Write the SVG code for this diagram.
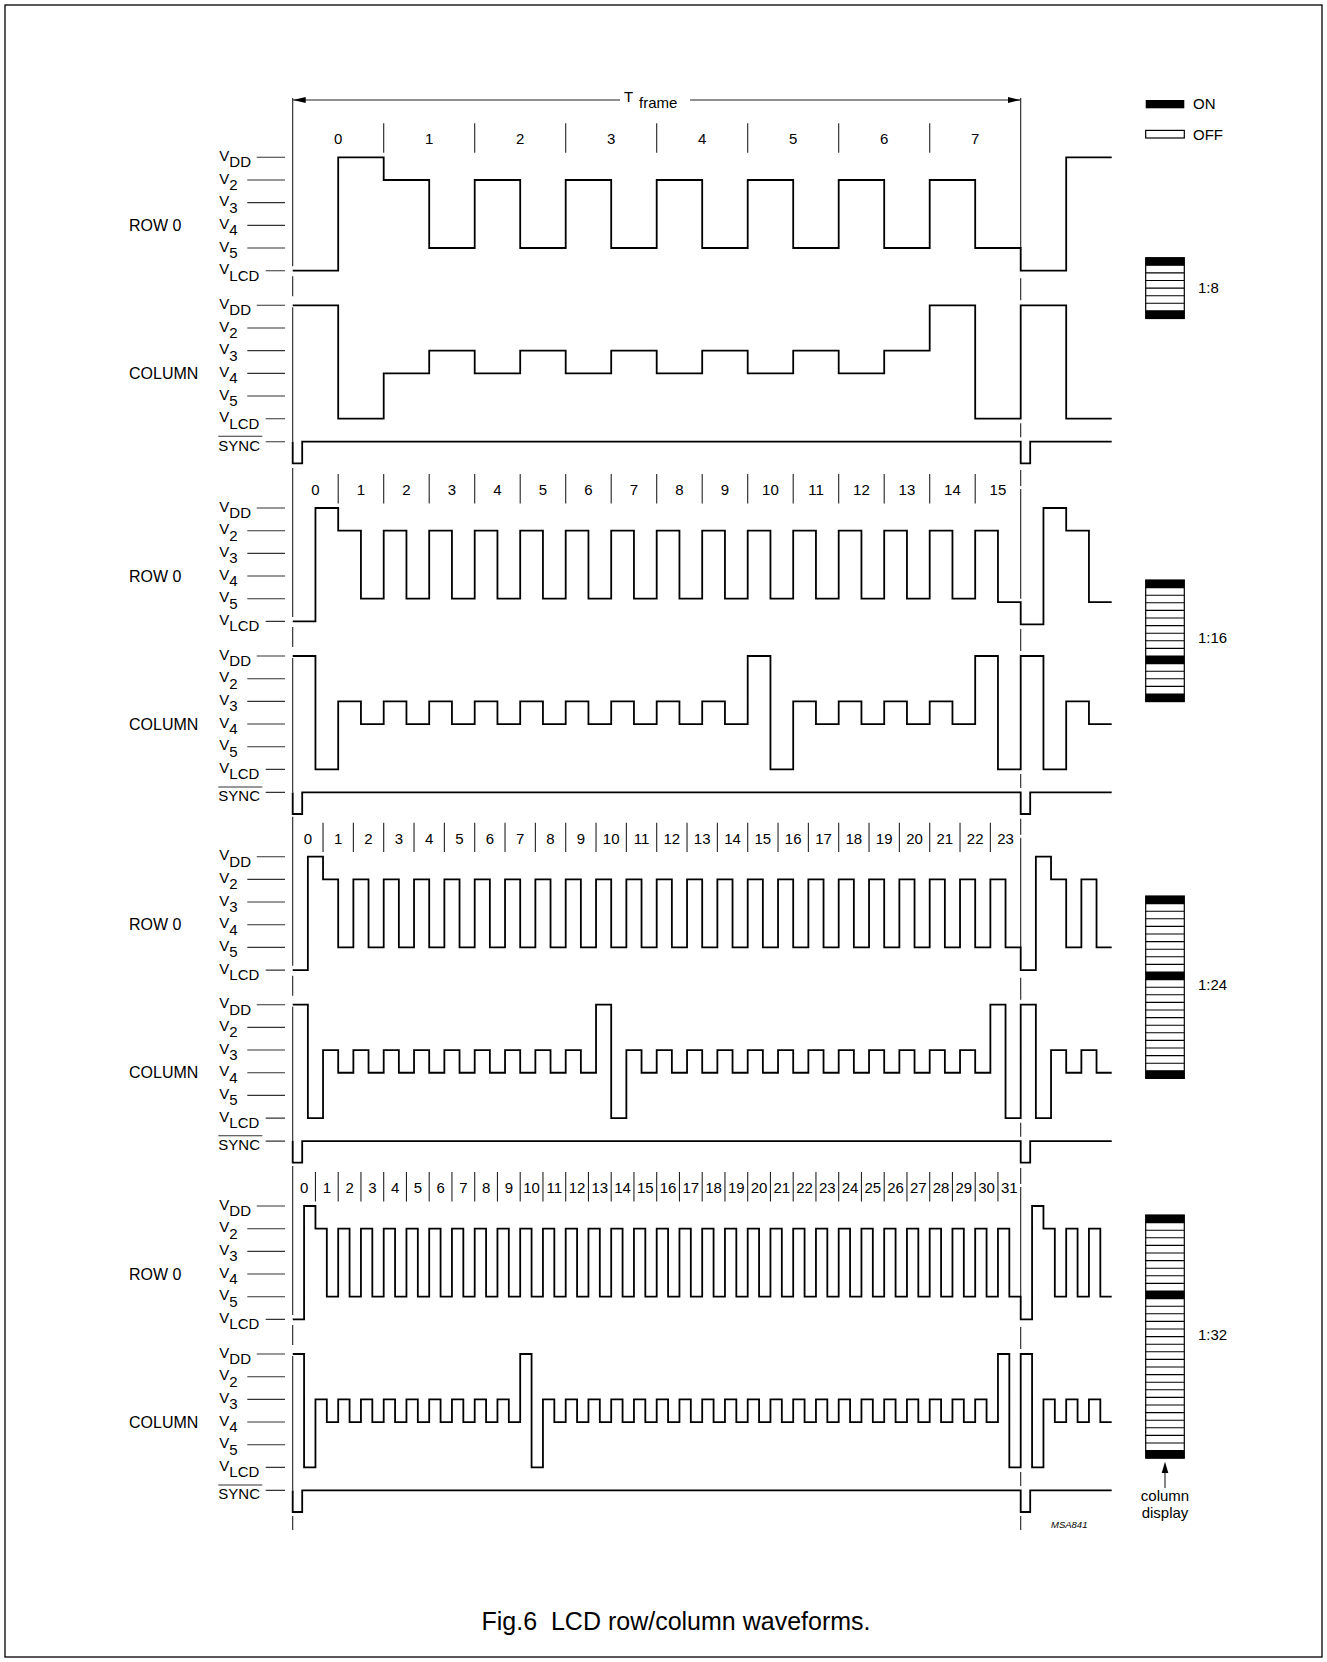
<svg xmlns="http://www.w3.org/2000/svg" width="1327" height="1662" viewBox="0 0 1327 1662">
<style>
text{font-family:"Liberation Sans",Arial,sans-serif;font-size:15px;fill:#000}
.big{font-size:16px}
.num{text-anchor:middle}
.w{fill:none;stroke:#000;stroke-width:1.8;stroke-linejoin:miter}
.fr{fill:none;stroke:#222;stroke-width:1.1}
.tk{fill:none;stroke:#333;stroke-width:1.1}
.disp{fill:#fff;stroke:#000;stroke-width:1.2}
.rows{fill:none;stroke:#000;stroke-width:1.1}
</style>
<defs>
<marker id="ah" viewBox="0 0 13 6" refX="13" refY="3" markerWidth="13" markerHeight="6" markerUnits="userSpaceOnUse" orient="auto"><path d="M0,0L13,3L0,6z" fill="#000"/></marker>
</defs>
<rect x="5" y="5" width="1317" height="1652" fill="#fff" stroke="#000" stroke-width="1.3"/>

<g id="tframe">
<path class="fr" d="M620,100H292.7" marker-end="url(#ah)"/>
<path class="fr" d="M690,100H1020.7" marker-end="url(#ah)"/>
<text x="624" y="101.5">T</text><text x="639" y="107.5">frame</text>
</g>

<g id="legend">
<rect x="1145.7" y="100" width="38.6" height="8.3" fill="#000"/>
<text x="1193" y="108.5">ON</text>
<rect x="1145.7" y="130.4" width="38.6" height="7.6" class="disp"/>
<text x="1193" y="140">OFF</text>
</g>

<!-- Section 1:8 -->
<g id="mux-1-8" transform="translate(0,157.3)">
<g class="tk"><path d="M256.7,0H285M247.3,22.68H285M247.3,45.36H285M247.3,68.04H285M247.3,90.72H285M265.7,113.4H285M256.7,148H285M247.3,170.68H285M247.3,193.36H285M247.3,216.04H285M247.3,238.72H285M265.7,261.4H285M265.7,284.4H285M218.3,279H262.3"/></g>
<text class="big" x="129" y="73.7">ROW 0</text>
<text class="big" x="129" y="221.7">COLUMN</text>
<text x="219.3" y="3.7">V<tspan dy="6.3">DD</tspan></text>
<text x="219.3" y="26.38">V<tspan dy="6.3">2</tspan></text>
<text x="219.3" y="49.06">V<tspan dy="6.3">3</tspan></text>
<text x="219.3" y="71.74">V<tspan dy="6.3">4</tspan></text>
<text x="219.3" y="94.42">V<tspan dy="6.3">5</tspan></text>
<text x="219.3" y="117.1">V<tspan dy="6.3">LCD</tspan></text>
<text x="219.3" y="151.7">V<tspan dy="6.3">DD</tspan></text>
<text x="219.3" y="174.38">V<tspan dy="6.3">2</tspan></text>
<text x="219.3" y="197.06">V<tspan dy="6.3">3</tspan></text>
<text x="219.3" y="219.74">V<tspan dy="6.3">4</tspan></text>
<text x="219.3" y="242.42">V<tspan dy="6.3">5</tspan></text>
<text x="219.3" y="265.1">V<tspan dy="6.3">LCD</tspan></text>
<text x="218.3" y="293.4">SYNC</text>
<path class="fr" d="M292.7,-59.3V109M292.7,119V139M292.7,150V284.4M1020.7,-59.3V90.72M1020.7,121V143M1020.7,266V280"/>
<path class="fr" d="M383.7,-34v29.4M474.7,-34v29.4M565.7,-34v29.4M656.7,-34v29.4M747.7,-34v29.4M838.7,-34v29.4M929.7,-34v29.4"/>
<g class="num">
<text x="338.2" y="-13">0</text><text x="429.2" y="-13">1</text><text x="520.2" y="-13">2</text><text x="611.2" y="-13">3</text><text x="702.2" y="-13">4</text><text x="793.2" y="-13">5</text><text x="884.2" y="-13">6</text><text x="975.2" y="-13">7</text>
</g>
<g id="wave-1-8">
<path class="w" d="M292.7,113.4h45.5V0h45.5
V22.68h45.5V90.72h45.5 V22.68h45.5V90.72h45.5 V22.68h45.5V90.72h45.5 V22.68h45.5V90.72h45.5 V22.68h45.5V90.72h45.5 V22.68h45.5V90.72h45.5 V22.68h45.5V90.72h45.5
V113.4h45.5V0h45.5"/>
<path class="w" d="M292.7,148h45.5V261.4h45.5
V216.04h45.5V193.36h45.5 V216.04h45.5V193.36h45.5 V216.04h45.5V193.36h45.5 V216.04h45.5V193.36h45.5 V216.04h45.5V193.36h45.5 V216.04h45.5V193.36h45.5
V148h45.5V261.4h45.5
V148h45.5V261.4h45.5"/>
<path class="w" d="M292.7,284.4V306h9.5V284.4H1020.7V306h9.5V284.4H1111.7"/>
</g>
</g>

<!-- Section 1:16 -->
<g id="mux-1-16" transform="translate(0,508)">
<g class="tk"><path d="M256.7,0H285M247.3,22.68H285M247.3,45.36H285M247.3,68.04H285M247.3,90.72H285M265.7,113.4H285M256.7,148H285M247.3,170.68H285M247.3,193.36H285M247.3,216.04H285M247.3,238.72H285M265.7,261.4H285M265.7,284.4H285M218.3,279H262.3"/></g>
<text class="big" x="129" y="73.7">ROW 0</text>
<text class="big" x="129" y="221.7">COLUMN</text>
<text x="219.3" y="3.7">V<tspan dy="6.3">DD</tspan></text>
<text x="219.3" y="26.38">V<tspan dy="6.3">2</tspan></text>
<text x="219.3" y="49.06">V<tspan dy="6.3">3</tspan></text>
<text x="219.3" y="71.74">V<tspan dy="6.3">4</tspan></text>
<text x="219.3" y="94.42">V<tspan dy="6.3">5</tspan></text>
<text x="219.3" y="117.1">V<tspan dy="6.3">LCD</tspan></text>
<text x="219.3" y="151.7">V<tspan dy="6.3">DD</tspan></text>
<text x="219.3" y="174.38">V<tspan dy="6.3">2</tspan></text>
<text x="219.3" y="197.06">V<tspan dy="6.3">3</tspan></text>
<text x="219.3" y="219.74">V<tspan dy="6.3">4</tspan></text>
<text x="219.3" y="242.42">V<tspan dy="6.3">5</tspan></text>
<text x="219.3" y="265.1">V<tspan dy="6.3">LCD</tspan></text>
<text x="218.3" y="293.4">SYNC</text>
<path class="fr" d="M292.7,-40V109M292.7,119V139M292.7,150V284.4M1020.7,-38V-22M1020.7,-19V90.72M1020.7,121V143M1020.7,266V280"/>
<path class="fr" d="M338.2,-34v29.4M383.7,-34v29.4M429.2,-34v29.4M474.7,-34v29.4M520.2,-34v29.4M565.7,-34v29.4M611.2,-34v29.4M656.7,-34v29.4M702.2,-34v29.4M747.7,-34v29.4M793.2,-34v29.4M838.7,-34v29.4M884.2,-34v29.4M929.7,-34v29.4M975.2,-34v29.4"/>
<g class="num">
<text x="315.45" y="-13">0</text><text x="360.95" y="-13">1</text><text x="406.45" y="-13">2</text><text x="451.95" y="-13">3</text><text x="497.45" y="-13">4</text><text x="542.95" y="-13">5</text><text x="588.45" y="-13">6</text><text x="633.95" y="-13">7</text><text x="679.45" y="-13">8</text><text x="724.95" y="-13">9</text><text x="770.45" y="-13">10</text><text x="815.95" y="-13">11</text><text x="861.45" y="-13">12</text><text x="906.95" y="-13">13</text><text x="952.45" y="-13">14</text><text x="997.95" y="-13">15</text>
</g>
<g id="wave-1-16">
<path class="w" d="M292.7,113.4h22.75V0h22.75
V22.68h22.75V90.72h22.75 V22.68h22.75V90.72h22.75 V22.68h22.75V90.72h22.75 V22.68h22.75V90.72h22.75 V22.68h22.75V90.72h22.75
V22.68h22.75V90.72h22.75 V22.68h22.75V90.72h22.75 V22.68h22.75V90.72h22.75 V22.68h22.75V90.72h22.75 V22.68h22.75V90.72h22.75
V22.68h22.75V90.72h22.75 V22.68h22.75V90.72h22.75 V22.68h22.75V90.72h22.75 V22.68h22.75V90.72h22.75
V22.68h22.75V94.2h22.75
V116.3h22.75V0h22.75V22.68h22.75V94.2h22.75"/>
<path class="w" d="M292.7,148h22.75V261.4h22.75
V193.36h22.75V216.04h22.75 V193.36h22.75V216.04h22.75 V193.36h22.75V216.04h22.75 V193.36h22.75V216.04h22.75 V193.36h22.75V216.04h22.75
V193.36h22.75V216.04h22.75 V193.36h22.75V216.04h22.75 V193.36h22.75V216.04h22.75 V193.36h22.75V216.04h22.75
V148h22.75V261.4h22.75
V193.36h22.75V216.04h22.75 V193.36h22.75V216.04h22.75 V193.36h22.75V216.04h22.75 V193.36h22.75V216.04h22.75
V148h22.75V261.4h22.75
V148h22.75V261.4h22.75V193.36h22.75V216.04h22.75"/>
<path class="w" d="M292.7,284.4V306h9.5V284.4H1020.7V306h9.5V284.4H1111.7"/>
</g>
</g>

<!-- Section 1:24 -->
<g id="mux-1-24" transform="translate(0,856.7)">
<g class="tk"><path d="M256.7,0H285M247.3,22.68H285M247.3,45.36H285M247.3,68.04H285M247.3,90.72H285M265.7,113.4H285M256.7,148H285M247.3,170.68H285M247.3,193.36H285M247.3,216.04H285M247.3,238.72H285M265.7,261.4H285M265.7,284.4H285M218.3,279H262.3"/></g>
<text class="big" x="129" y="73.7">ROW 0</text>
<text class="big" x="129" y="221.7">COLUMN</text>
<text x="219.3" y="3.7">V<tspan dy="6.3">DD</tspan></text>
<text x="219.3" y="26.38">V<tspan dy="6.3">2</tspan></text>
<text x="219.3" y="49.06">V<tspan dy="6.3">3</tspan></text>
<text x="219.3" y="71.74">V<tspan dy="6.3">4</tspan></text>
<text x="219.3" y="94.42">V<tspan dy="6.3">5</tspan></text>
<text x="219.3" y="117.1">V<tspan dy="6.3">LCD</tspan></text>
<text x="219.3" y="151.7">V<tspan dy="6.3">DD</tspan></text>
<text x="219.3" y="174.38">V<tspan dy="6.3">2</tspan></text>
<text x="219.3" y="197.06">V<tspan dy="6.3">3</tspan></text>
<text x="219.3" y="219.74">V<tspan dy="6.3">4</tspan></text>
<text x="219.3" y="242.42">V<tspan dy="6.3">5</tspan></text>
<text x="219.3" y="265.1">V<tspan dy="6.3">LCD</tspan></text>
<text x="218.3" y="293.4">SYNC</text>
<path class="fr" d="M292.7,-40V109M292.7,119V139M292.7,150V284.4M1020.7,-38V-22M1020.7,-19V90.72M1020.7,121V143M1020.7,266V280"/>
<path class="fr" d="M323.03,-34v29.4M353.37,-34v29.4M383.7,-34v29.4M414.03,-34v29.4M444.37,-34v29.4M474.7,-34v29.4M505.03,-34v29.4M535.37,-34v29.4M565.7,-34v29.4M596.03,-34v29.4M626.37,-34v29.4M656.7,-34v29.4M687.03,-34v29.4M717.37,-34v29.4M747.7,-34v29.4M778.03,-34v29.4M808.37,-34v29.4M838.7,-34v29.4M869.03,-34v29.4M899.37,-34v29.4M929.7,-34v29.4M960.03,-34v29.4M990.37,-34v29.4"/>
<g class="num">
<text x="307.87" y="-13">0</text><text x="338.2" y="-13">1</text><text x="368.53" y="-13">2</text><text x="398.87" y="-13">3</text><text x="429.2" y="-13">4</text><text x="459.53" y="-13">5</text><text x="489.87" y="-13">6</text><text x="520.2" y="-13">7</text><text x="550.53" y="-13">8</text><text x="580.87" y="-13">9</text><text x="611.2" y="-13">10</text><text x="641.53" y="-13">11</text><text x="671.87" y="-13">12</text><text x="702.2" y="-13">13</text><text x="732.53" y="-13">14</text><text x="762.87" y="-13">15</text><text x="793.2" y="-13">16</text><text x="823.53" y="-13">17</text><text x="853.87" y="-13">18</text><text x="884.2" y="-13">19</text><text x="914.53" y="-13">20</text><text x="944.87" y="-13">21</text><text x="975.2" y="-13">22</text><text x="1005.53" y="-13">23</text>
</g>
<g id="wave-1-24">
<path class="w" d="M292.7,113.4h15.1667V0h15.1667
V22.68h15.1667V90.72h15.1667 V22.68h15.1667V90.72h15.1667 V22.68h15.1667V90.72h15.1667 V22.68h15.1667V90.72h15.1667 V22.68h15.1667V90.72h15.1667
V22.68h15.1667V90.72h15.1667 V22.68h15.1667V90.72h15.1667 V22.68h15.1667V90.72h15.1667 V22.68h15.1667V90.72h15.1667 V22.68h15.1667V90.72h15.1667
V22.68h15.1667V90.72h15.1667 V22.68h15.1667V90.72h15.1667 V22.68h15.1667V90.72h15.1667 V22.68h15.1667V90.72h15.1667 V22.68h15.1667V90.72h15.1667
V22.68h15.1667V90.72h15.1667 V22.68h15.1667V90.72h15.1667 V22.68h15.1667V90.72h15.1667 V22.68h15.1667V90.72h15.1667 V22.68h15.1667V90.72h15.1667
V22.68h15.1667V90.72h15.1667 V22.68h15.1667V90.72h15.1667 V22.68h15.1667V90.72h15.1667
V113.4h15.1667V0h15.1667
V22.68h15.1667V90.72h15.1667 V22.68h15.1667V90.72h15.1667"/>
<path class="w" d="M292.7,148h15.1667V261.4h15.1667
V193.36h15.1667V216.04h15.1667 V193.36h15.1667V216.04h15.1667 V193.36h15.1667V216.04h15.1667 V193.36h15.1667V216.04h15.1667 V193.36h15.1667V216.04h15.1667
V193.36h15.1667V216.04h15.1667 V193.36h15.1667V216.04h15.1667 V193.36h15.1667V216.04h15.1667 V193.36h15.1667V216.04h15.1667
V148h15.1667V261.4h15.1667
V193.36h15.1667V216.04h15.1667 V193.36h15.1667V216.04h15.1667 V193.36h15.1667V216.04h15.1667 V193.36h15.1667V216.04h15.1667
V193.36h15.1667V216.04h15.1667 V193.36h15.1667V216.04h15.1667 V193.36h15.1667V216.04h15.1667 V193.36h15.1667V216.04h15.1667
V193.36h15.1667V216.04h15.1667 V193.36h15.1667V216.04h15.1667 V193.36h15.1667V216.04h15.1667 V193.36h15.1667V216.04h15.1667
V148h15.1667V261.4h15.1667
V148h15.1667V261.4h15.1667
V193.36h15.1667V216.04h15.1667 V193.36h15.1667V216.04h15.1667"/>
<path class="w" d="M292.7,284.4V306h9.5V284.4H1020.7V306h9.5V284.4H1111.7"/>
</g>
</g>

<!-- Section 1:32 -->
<g id="mux-1-32" transform="translate(0,1206)">
<g class="tk"><path d="M256.7,0H285M247.3,22.68H285M247.3,45.36H285M247.3,68.04H285M247.3,90.72H285M265.7,113.4H285M256.7,148H285M247.3,170.68H285M247.3,193.36H285M247.3,216.04H285M247.3,238.72H285M265.7,261.4H285M265.7,284.4H285M218.3,279H262.3"/></g>
<text class="big" x="129" y="73.7">ROW 0</text>
<text class="big" x="129" y="221.7">COLUMN</text>
<text x="219.3" y="3.7">V<tspan dy="6.3">DD</tspan></text>
<text x="219.3" y="26.38">V<tspan dy="6.3">2</tspan></text>
<text x="219.3" y="49.06">V<tspan dy="6.3">3</tspan></text>
<text x="219.3" y="71.74">V<tspan dy="6.3">4</tspan></text>
<text x="219.3" y="94.42">V<tspan dy="6.3">5</tspan></text>
<text x="219.3" y="117.1">V<tspan dy="6.3">LCD</tspan></text>
<text x="219.3" y="151.7">V<tspan dy="6.3">DD</tspan></text>
<text x="219.3" y="174.38">V<tspan dy="6.3">2</tspan></text>
<text x="219.3" y="197.06">V<tspan dy="6.3">3</tspan></text>
<text x="219.3" y="219.74">V<tspan dy="6.3">4</tspan></text>
<text x="219.3" y="242.42">V<tspan dy="6.3">5</tspan></text>
<text x="219.3" y="265.1">V<tspan dy="6.3">LCD</tspan></text>
<text x="218.3" y="293.4">SYNC</text>
<path class="fr" d="M292.7,-40V109M292.7,119V139M292.7,150V284.4M1020.7,-38V-22M1020.7,-19V90.72M1020.7,121V143M1020.7,266V280M292.7,310V324M1020.7,310V324"/>
<path class="fr" d="M315.45,-34v29.4M338.2,-34v29.4M360.95,-34v29.4M383.7,-34v29.4M406.45,-34v29.4M429.2,-34v29.4M451.95,-34v29.4M474.7,-34v29.4M497.45,-34v29.4M520.2,-34v29.4M542.95,-34v29.4M565.7,-34v29.4M588.45,-34v29.4M611.2,-34v29.4M633.95,-34v29.4M656.7,-34v29.4M679.45,-34v29.4M702.2,-34v29.4M724.95,-34v29.4M747.7,-34v29.4M770.45,-34v29.4M793.2,-34v29.4M815.95,-34v29.4M838.7,-34v29.4M861.45,-34v29.4M884.2,-34v29.4M906.95,-34v29.4M929.7,-34v29.4M952.45,-34v29.4M975.2,-34v29.4M997.95,-34v29.4"/>
<g class="num">
<text x="304.08" y="-13">0</text><text x="326.83" y="-13">1</text><text x="349.58" y="-13">2</text><text x="372.33" y="-13">3</text><text x="395.08" y="-13">4</text><text x="417.83" y="-13">5</text><text x="440.58" y="-13">6</text><text x="463.33" y="-13">7</text><text x="486.08" y="-13">8</text><text x="508.83" y="-13">9</text><text x="531.58" y="-13">10</text><text x="554.33" y="-13">11</text><text x="577.08" y="-13">12</text><text x="599.83" y="-13">13</text><text x="622.58" y="-13">14</text><text x="645.33" y="-13">15</text><text x="668.08" y="-13">16</text><text x="690.83" y="-13">17</text><text x="713.58" y="-13">18</text><text x="736.33" y="-13">19</text><text x="759.08" y="-13">20</text><text x="781.83" y="-13">21</text><text x="804.58" y="-13">22</text><text x="827.33" y="-13">23</text><text x="850.08" y="-13">24</text><text x="872.83" y="-13">25</text><text x="895.58" y="-13">26</text><text x="918.33" y="-13">27</text><text x="941.08" y="-13">28</text><text x="963.83" y="-13">29</text><text x="986.58" y="-13">30</text><text x="1009.33" y="-13">31</text>
</g>
<g id="wave-1-32">
<path class="w" d="M292.7,113.4h11.375V0h11.375
V22.68h11.375V90.72h11.375 V22.68h11.375V90.72h11.375 V22.68h11.375V90.72h11.375 V22.68h11.375V90.72h11.375 V22.68h11.375V90.72h11.375
V22.68h11.375V90.72h11.375 V22.68h11.375V90.72h11.375 V22.68h11.375V90.72h11.375 V22.68h11.375V90.72h11.375 V22.68h11.375V90.72h11.375
V22.68h11.375V90.72h11.375 V22.68h11.375V90.72h11.375 V22.68h11.375V90.72h11.375 V22.68h11.375V90.72h11.375 V22.68h11.375V90.72h11.375
V22.68h11.375V90.72h11.375 V22.68h11.375V90.72h11.375 V22.68h11.375V90.72h11.375 V22.68h11.375V90.72h11.375 V22.68h11.375V90.72h11.375
V22.68h11.375V90.72h11.375 V22.68h11.375V90.72h11.375 V22.68h11.375V90.72h11.375 V22.68h11.375V90.72h11.375 V22.68h11.375V90.72h11.375
V22.68h11.375V90.72h11.375 V22.68h11.375V90.72h11.375 V22.68h11.375V90.72h11.375 V22.68h11.375V90.72h11.375 V22.68h11.375V90.72h11.375
V22.68h11.375V90.72h11.375
V113.4h11.375V0h11.375
V22.68h11.375V90.72h11.375 V22.68h11.375V90.72h11.375 V22.68h11.375V90.72h11.375"/>
<path class="w" d="M292.7,148h11.375V261.4h11.375
V193.36h11.375V216.04h11.375 V193.36h11.375V216.04h11.375 V193.36h11.375V216.04h11.375 V193.36h11.375V216.04h11.375 V193.36h11.375V216.04h11.375
V193.36h11.375V216.04h11.375 V193.36h11.375V216.04h11.375 V193.36h11.375V216.04h11.375 V193.36h11.375V216.04h11.375
V148h11.375V261.4h11.375
V193.36h11.375V216.04h11.375 V193.36h11.375V216.04h11.375 V193.36h11.375V216.04h11.375 V193.36h11.375V216.04h11.375 V193.36h11.375V216.04h11.375
V193.36h11.375V216.04h11.375 V193.36h11.375V216.04h11.375 V193.36h11.375V216.04h11.375 V193.36h11.375V216.04h11.375 V193.36h11.375V216.04h11.375
V193.36h11.375V216.04h11.375 V193.36h11.375V216.04h11.375 V193.36h11.375V216.04h11.375 V193.36h11.375V216.04h11.375 V193.36h11.375V216.04h11.375
V193.36h11.375V216.04h11.375 V193.36h11.375V216.04h11.375 V193.36h11.375V216.04h11.375 V193.36h11.375V216.04h11.375 V193.36h11.375V216.04h11.375
V148h11.375V261.4h11.375
V148h11.375V261.4h11.375
V193.36h11.375V216.04h11.375 V193.36h11.375V216.04h11.375 V193.36h11.375V216.04h11.375"/>
<path class="w" d="M292.7,284.4V306h9.5V284.4H1020.7V306h9.5V284.4H1111.7"/>
</g>
</g>

<!-- Column displays -->
<g id="display-1-8" transform="translate(1145.7,257.7)">
<rect width="38.6" height="60.8" class="disp"/>
<rect y="0" width="38.6" height="7.6" fill="#000"/><rect y="53.2" width="38.6" height="7.6" fill="#000"/>
<path class="rows" d="M0,7.6h38.6M0,15.2h38.6M0,22.8h38.6M0,30.4h38.6M0,38h38.6M0,45.6h38.6M0,53.2h38.6"/>
</g>
<text x="1198" y="292.5">1:8</text>

<g id="display-1-16" transform="translate(1145.7,580)">
<rect width="38.6" height="121.6" class="disp"/>
<rect y="0" width="38.6" height="7.6" fill="#000"/><rect y="76" width="38.6" height="7.6" fill="#000"/><rect y="114" width="38.6" height="7.6" fill="#000"/>
<path class="rows" d="M0,7.6h38.6M0,15.2h38.6M0,22.8h38.6M0,30.4h38.6M0,38h38.6M0,45.6h38.6M0,53.2h38.6M0,60.8h38.6M0,68.4h38.6M0,76h38.6M0,83.6h38.6M0,91.2h38.6M0,98.8h38.6M0,106.4h38.6M0,114h38.6"/>
</g>
<text x="1198" y="643">1:16</text>

<g id="display-1-24" transform="translate(1145.7,896)">
<rect width="38.6" height="182.4" class="disp"/>
<rect y="0" width="38.6" height="7.6" fill="#000"/><rect y="76" width="38.6" height="7.6" fill="#000"/><rect y="174.8" width="38.6" height="7.6" fill="#000"/>
<path class="rows" d="M0,7.6h38.6M0,15.2h38.6M0,22.8h38.6M0,30.4h38.6M0,38h38.6M0,45.6h38.6M0,53.2h38.6M0,60.8h38.6M0,68.4h38.6M0,76h38.6M0,83.6h38.6M0,91.2h38.6M0,98.8h38.6M0,106.4h38.6M0,114h38.6M0,121.6h38.6M0,129.2h38.6M0,136.8h38.6M0,144.4h38.6M0,152h38.6M0,159.6h38.6M0,167.2h38.6M0,174.8h38.6"/>
</g>
<text x="1198" y="990">1:24</text>

<g id="display-1-32" transform="translate(1145.7,1215)">
<rect width="38.6" height="243.2" class="disp"/>
<rect y="0" width="38.6" height="7.6" fill="#000"/><rect y="76" width="38.6" height="7.6" fill="#000"/><rect y="235.6" width="38.6" height="7.6" fill="#000"/>
<path class="rows" d="M0,7.6h38.6M0,15.2h38.6M0,22.8h38.6M0,30.4h38.6M0,38h38.6M0,45.6h38.6M0,53.2h38.6M0,60.8h38.6M0,68.4h38.6M0,76h38.6M0,83.6h38.6M0,91.2h38.6M0,98.8h38.6M0,106.4h38.6M0,114h38.6M0,121.6h38.6M0,129.2h38.6M0,136.8h38.6M0,144.4h38.6M0,152h38.6M0,159.6h38.6M0,167.2h38.6M0,174.8h38.6M0,182.4h38.6M0,190h38.6M0,197.6h38.6M0,205.2h38.6M0,212.8h38.6M0,220.4h38.6M0,228h38.6M0,235.6h38.6"/>
</g>
<text x="1198" y="1340">1:32</text>

<g id="column-display-label">
<path class="fr" d="M1165,1488V1470"/>
<path d="M1165,1461.7L1161.7,1473L1168.3,1473z" fill="#000"/>
<text x="1165" y="1500.5" text-anchor="middle">column</text>
<text x="1165" y="1518" text-anchor="middle">display</text>
</g>

<text x="1051" y="1528" style="font-size:9.5px;font-style:italic">MSA841</text>
<text x="676" y="1630" text-anchor="middle" xml:space="preserve" style="font-size:25px">Fig.6  LCD row/column waveforms.</text>
</svg>
